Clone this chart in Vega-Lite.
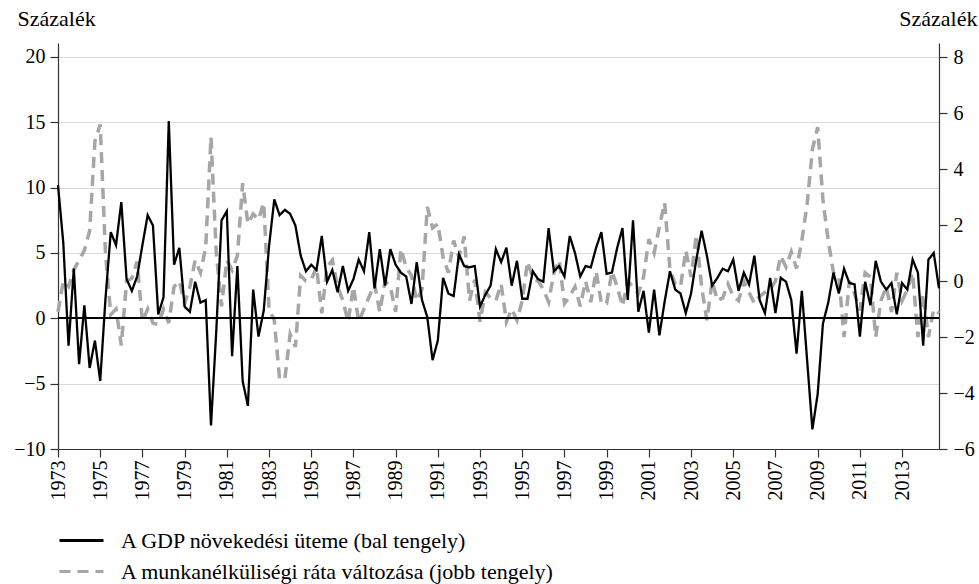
{
  "$schema": "https://vega.github.io/schema/vega-lite/v6.json",
  "width": 881,
  "height": 406,
  "autosize": "none",
  "padding": {"left": 58, "top": 43, "right": 40, "bottom": 135},
  "background": "white",
  "config": {
    "font": "Liberation Serif, DejaVu Serif, serif",
    "view": {"stroke": null},
    "axis": {
      "labelFont": "Liberation Serif, DejaVu Serif, serif",
      "titleFont": "Liberation Serif, DejaVu Serif, serif",
      "labelFontSize": 20,
      "titleFontSize": 22,
      "labelColor": "#000000",
      "titleColor": "#000000",
      "titleFontWeight": "normal",
      "domainColor": "#333333",
      "tickColor": "#333333",
      "tickSize": 8,
      "domainWidth": 1.2,
      "tickWidth": 1.2
    },
    "legend": {"labelFont": "Liberation Serif, DejaVu Serif, serif"}
  },
  "data": {
    "values": [
      {"t": 1973, "gdp": 10.2, "unemp": -1.1}, {"t": 1973.25, "gdp": 5.8, "unemp": 0.0}, {"t": 1973.5, "gdp": -2.1, "unemp": -0.2}, {"t": 1973.75, "gdp": 3.8, "unemp": 0.4},
      {"t": 1974, "gdp": -3.5, "unemp": 0.75}, {"t": 1974.25, "gdp": 1.0, "unemp": 1.1}, {"t": 1974.5, "gdp": -3.8, "unemp": 1.8}, {"t": 1974.75, "gdp": -1.7, "unemp": 5.0},
      {"t": 1975, "gdp": -4.8, "unemp": 5.6}, {"t": 1975.25, "gdp": 1.5, "unemp": 1.0}, {"t": 1975.5, "gdp": 6.6, "unemp": -1.2}, {"t": 1975.75, "gdp": 5.6, "unemp": -1.0},
      {"t": 1976, "gdp": 8.9, "unemp": -2.3}, {"t": 1976.25, "gdp": 3.0, "unemp": 0.0}, {"t": 1976.5, "gdp": 2.1, "unemp": 0.1}, {"t": 1976.75, "gdp": 3.2, "unemp": 0.7},
      {"t": 1977, "gdp": 5.6, "unemp": -1.45}, {"t": 1977.25, "gdp": 7.9, "unemp": -1.0}, {"t": 1977.5, "gdp": 7.1, "unemp": -1.5}, {"t": 1977.75, "gdp": 0.3, "unemp": -1.55},
      {"t": 1978, "gdp": 1.6, "unemp": -1.0}, {"t": 1978.25, "gdp": 15.1, "unemp": -1.5}, {"t": 1978.5, "gdp": 4.1, "unemp": -0.2}, {"t": 1978.75, "gdp": 5.4, "unemp": 0.0},
      {"t": 1979, "gdp": 0.9, "unemp": -0.8}, {"t": 1979.25, "gdp": 0.5, "unemp": -0.2}, {"t": 1979.5, "gdp": 2.8, "unemp": 0.75}, {"t": 1979.75, "gdp": 1.2, "unemp": 0.3},
      {"t": 1980, "gdp": 1.4, "unemp": 1.2}, {"t": 1980.25, "gdp": -8.2, "unemp": 5.15}, {"t": 1980.5, "gdp": -1.0, "unemp": 1.0}, {"t": 1980.75, "gdp": 7.5, "unemp": -0.9},
      {"t": 1981, "gdp": 8.2, "unemp": 0.75}, {"t": 1981.25, "gdp": -2.9, "unemp": 0.4}, {"t": 1981.5, "gdp": 4.0, "unemp": 0.9}, {"t": 1981.75, "gdp": -4.8, "unemp": 3.5},
      {"t": 1982, "gdp": -6.7, "unemp": 2.05}, {"t": 1982.25, "gdp": 2.2, "unemp": 2.4}, {"t": 1982.5, "gdp": -1.4, "unemp": 2.2}, {"t": 1982.75, "gdp": 0.6, "unemp": 2.8},
      {"t": 1983, "gdp": 5.5, "unemp": -1.0}, {"t": 1983.25, "gdp": 9.1, "unemp": -1.4}, {"t": 1983.5, "gdp": 7.9, "unemp": -3.5}, {"t": 1983.75, "gdp": 8.3, "unemp": -3.5},
      {"t": 1984, "gdp": 8.0, "unemp": -1.9}, {"t": 1984.25, "gdp": 7.1, "unemp": -2.35}, {"t": 1984.5, "gdp": 4.8, "unemp": 0.2}, {"t": 1984.75, "gdp": 3.6, "unemp": 0.0},
      {"t": 1985, "gdp": 4.1, "unemp": 0.05}, {"t": 1985.25, "gdp": 3.7, "unemp": 0.5}, {"t": 1985.5, "gdp": 6.3, "unemp": -1.15}, {"t": 1985.75, "gdp": 2.8, "unemp": 0.5},
      {"t": 1986, "gdp": 3.7, "unemp": 0.75}, {"t": 1986.25, "gdp": 2.0, "unemp": -0.2}, {"t": 1986.5, "gdp": 4.0, "unemp": -0.7}, {"t": 1986.75, "gdp": 2.1, "unemp": -1.45},
      {"t": 1987, "gdp": 3.0, "unemp": -0.2}, {"t": 1987.25, "gdp": 4.5, "unemp": -1.45}, {"t": 1987.5, "gdp": 3.6, "unemp": -1.0}, {"t": 1987.75, "gdp": 6.6, "unemp": -0.55},
      {"t": 1988, "gdp": 2.3, "unemp": -0.1}, {"t": 1988.25, "gdp": 5.3, "unemp": -1.1}, {"t": 1988.5, "gdp": 2.5, "unemp": 0.0}, {"t": 1988.75, "gdp": 5.3, "unemp": -0.2},
      {"t": 1989, "gdp": 4.1, "unemp": -1.1}, {"t": 1989.25, "gdp": 3.5, "unemp": 1.15}, {"t": 1989.5, "gdp": 3.2, "unemp": 0.5}, {"t": 1989.75, "gdp": 1.1, "unemp": 0.2},
      {"t": 1990, "gdp": 4.3, "unemp": -0.7}, {"t": 1990.25, "gdp": 1.4, "unemp": -0.3}, {"t": 1990.5, "gdp": 0.1, "unemp": 2.65}, {"t": 1990.75, "gdp": -3.2, "unemp": 1.9},
      {"t": 1991, "gdp": -1.7, "unemp": 2.05}, {"t": 1991.25, "gdp": 3.1, "unemp": 0.85}, {"t": 1991.5, "gdp": 1.9, "unemp": 0.3}, {"t": 1991.75, "gdp": 1.7, "unemp": 1.45},
      {"t": 1992, "gdp": 4.9, "unemp": 0.85}, {"t": 1992.25, "gdp": 4.0, "unemp": 1.6}, {"t": 1992.5, "gdp": 3.9, "unemp": -0.7}, {"t": 1992.75, "gdp": 4.0, "unemp": 0.05},
      {"t": 1993, "gdp": 0.9, "unemp": -1.45}, {"t": 1993.25, "gdp": 1.8, "unemp": -0.4}, {"t": 1993.5, "gdp": 2.5, "unemp": -0.6}, {"t": 1993.75, "gdp": 5.3, "unemp": -0.7},
      {"t": 1994, "gdp": 4.3, "unemp": -0.1}, {"t": 1994.25, "gdp": 5.4, "unemp": -1.45}, {"t": 1994.5, "gdp": 2.5, "unemp": -1.0}, {"t": 1994.75, "gdp": 4.4, "unemp": -1.4},
      {"t": 1995, "gdp": 1.5, "unemp": -0.7}, {"t": 1995.25, "gdp": 1.5, "unemp": 0.7}, {"t": 1995.5, "gdp": 3.6, "unemp": 0.1}, {"t": 1995.75, "gdp": 3.0, "unemp": 0.0},
      {"t": 1996, "gdp": 2.8, "unemp": -0.3}, {"t": 1996.25, "gdp": 6.9, "unemp": -0.75}, {"t": 1996.5, "gdp": 3.6, "unemp": 0.3}, {"t": 1996.75, "gdp": 4.0, "unemp": 0.75},
      {"t": 1997, "gdp": 3.2, "unemp": -0.8}, {"t": 1997.25, "gdp": 6.3, "unemp": -0.55}, {"t": 1997.5, "gdp": 5.0, "unemp": -0.2}, {"t": 1997.75, "gdp": 3.2, "unemp": -0.9},
      {"t": 1998, "gdp": 4.0, "unemp": 0.0}, {"t": 1998.25, "gdp": 3.9, "unemp": -0.75}, {"t": 1998.5, "gdp": 5.4, "unemp": 0.35}, {"t": 1998.75, "gdp": 6.6, "unemp": -0.8},
      {"t": 1999, "gdp": 3.4, "unemp": -0.8}, {"t": 1999.25, "gdp": 3.5, "unemp": 0.35}, {"t": 1999.5, "gdp": 5.4, "unemp": -0.2}, {"t": 1999.75, "gdp": 6.9, "unemp": -0.9},
      {"t": 2000, "gdp": 1.4, "unemp": 0.0}, {"t": 2000.25, "gdp": 7.5, "unemp": -0.2}, {"t": 2000.5, "gdp": 0.5, "unemp": -0.45}, {"t": 2000.75, "gdp": 2.1, "unemp": 0.15},
      {"t": 2001, "gdp": -1.1, "unemp": 1.5}, {"t": 2001.25, "gdp": 2.2, "unemp": 1.0}, {"t": 2001.5, "gdp": -1.3, "unemp": 1.95}, {"t": 2001.75, "gdp": 1.3, "unemp": 2.8},
      {"t": 2002, "gdp": 3.6, "unemp": 0.4}, {"t": 2002.25, "gdp": 2.2, "unemp": -0.1}, {"t": 2002.5, "gdp": 1.9, "unemp": -0.2}, {"t": 2002.75, "gdp": 0.4, "unemp": 1.1},
      {"t": 2003, "gdp": 1.9, "unemp": 0.15}, {"t": 2003.25, "gdp": 4.5, "unemp": 1.65}, {"t": 2003.5, "gdp": 6.7, "unemp": -0.2}, {"t": 2003.75, "gdp": 4.8, "unemp": -1.4},
      {"t": 2004, "gdp": 2.5, "unemp": 0.0}, {"t": 2004.25, "gdp": 3.1, "unemp": -0.7}, {"t": 2004.5, "gdp": 3.8, "unemp": -0.6}, {"t": 2004.75, "gdp": 3.6, "unemp": -0.1},
      {"t": 2005, "gdp": 4.5, "unemp": -0.55}, {"t": 2005.25, "gdp": 2.1, "unemp": -0.7}, {"t": 2005.5, "gdp": 3.5, "unemp": 0.0}, {"t": 2005.75, "gdp": 2.6, "unemp": -0.4},
      {"t": 2006, "gdp": 4.8, "unemp": -0.8}, {"t": 2006.25, "gdp": 1.4, "unemp": -0.55}, {"t": 2006.5, "gdp": 0.4, "unemp": -0.4}, {"t": 2006.75, "gdp": 3.1, "unemp": -0.3},
      {"t": 2007, "gdp": 0.4, "unemp": 0.0}, {"t": 2007.25, "gdp": 3.1, "unemp": 0.9}, {"t": 2007.5, "gdp": 2.8, "unemp": 0.5}, {"t": 2007.75, "gdp": 1.4, "unemp": 1.05},
      {"t": 2008, "gdp": -2.7, "unemp": 0.45}, {"t": 2008.25, "gdp": 2.1, "unemp": 1.45}, {"t": 2008.5, "gdp": -3.2, "unemp": 2.75}, {"t": 2008.75, "gdp": -8.5, "unemp": 4.7},
      {"t": 2009, "gdp": -5.8, "unemp": 5.5}, {"t": 2009.25, "gdp": -0.4, "unemp": 2.9}, {"t": 2009.5, "gdp": 1.2, "unemp": 1.45}, {"t": 2009.75, "gdp": 3.5, "unemp": 0.3},
      {"t": 2010, "gdp": 1.9, "unemp": 0.2}, {"t": 2010.25, "gdp": 3.8, "unemp": -2.0}, {"t": 2010.5, "gdp": 2.7, "unemp": 0.0}, {"t": 2010.75, "gdp": 2.6, "unemp": -0.45},
      {"t": 2011, "gdp": -1.4, "unemp": -1.05}, {"t": 2011.25, "gdp": 2.8, "unemp": 0.3}, {"t": 2011.5, "gdp": 1.0, "unemp": 0.15}, {"t": 2011.75, "gdp": 4.4, "unemp": -2.0},
      {"t": 2012, "gdp": 2.8, "unemp": -0.7}, {"t": 2012.25, "gdp": 2.2, "unemp": -0.2}, {"t": 2012.5, "gdp": 2.7, "unemp": -1.1}, {"t": 2012.75, "gdp": 0.3, "unemp": 0.3},
      {"t": 2013, "gdp": 2.7, "unemp": -0.7}, {"t": 2013.25, "gdp": 2.2, "unemp": -0.3}, {"t": 2013.5, "gdp": 4.5, "unemp": 0.3}, {"t": 2013.75, "gdp": 3.5, "unemp": -2.0},
      {"t": 2014, "gdp": -2.1, "unemp": -0.45}, {"t": 2014.25, "gdp": 4.5, "unemp": -2.0}, {"t": 2014.5, "gdp": 5.0, "unemp": -1.0}, {"t": 2014.75, "gdp": 2.3, "unemp": -1.15}
    ]
  },
  "transform": [{"fold": ["gdp", "unemp"], "as": ["key", "val"]}],
  "encoding": {
    "x": {
      "field": "t",
      "type": "quantitative",
      "scale": {"domain": [1973, 2014.75], "nice": false, "zero": false},
      "axis": {
        "title": null,
        "values": [1973, 1975, 1977, 1979, 1981, 1983, 1985, 1987, 1989, 1991, 1993, 1995, 1997, 1999, 2001, 2003, 2005, 2007, 2009, 2011, 2013],
        "format": "d",
        "labelAngle": -90,
        "labelPadding": 3,
        "grid": false
      }
    }
  },
  "layer": [
    {
      "transform": [{"filter": "datum.key == 'unemp'"}],
      "mark": {"type": "line", "strokeWidth": 3.5},
      "encoding": {
        "y": {
          "field": "val",
          "type": "quantitative",
          "scale": {"domain": [-6, 8.51], "nice": false, "zero": false},
          "axis": {
            "orient": "right",
            "values": [-6, -4, -2, 0, 2, 4, 6, 8],
            "grid": false,
            "labelPadding": 6,
            "title": "Százalék",
            "titleAngle": 0,
            "titleAlign": "right",
            "titleBaseline": "alphabetic",
            "titleX": 38,
            "titleY": -18
          }
        },
        "color": {
          "field": "key",
          "type": "nominal",
          "scale": {"domain": ["gdp", "unemp"], "range": ["#000000", "#a6a6a6"]},
          "legend": {
            "title": null,
            "orient": "none",
            "legendX": 0,
            "legendY": 485,
            "padding": 0,
            "symbolType": "M-1,0L3,0",
            "symbolSize": 484,
            "symbolStrokeWidth": 3,
            "labelFontSize": 22,
            "labelColor": "#000000",
            "labelOffset": 38,
            "labelLimit": 800,
            "rowPadding": 7,
            "labelExpr": "datum.label == 'gdp' ? 'A GDP növekedési üteme (bal tengely)' : 'A munkanélküliségi ráta változása (jobb tengely)'"
          }
        },
        "strokeDash": {
          "field": "key",
          "type": "nominal",
          "scale": {"domain": ["gdp", "unemp"], "range": [[1, 0], [11, 7]]},
          "legend": {
            "title": null,
            "orient": "none",
            "legendX": 0,
            "legendY": 485,
            "padding": 0,
            "symbolType": "M-1,0L3,0",
            "symbolSize": 484,
            "symbolStrokeWidth": 3,
            "labelFontSize": 22,
            "labelColor": "#000000",
            "labelOffset": 38,
            "labelLimit": 800,
            "rowPadding": 7,
            "labelExpr": "datum.label == 'gdp' ? 'A GDP növekedési üteme (bal tengely)' : 'A munkanélküliségi ráta változása (jobb tengely)'"
          }
        }
      }
    },
    {
      "mark": {"type": "rule", "color": "#000000", "strokeWidth": 1.2},
      "encoding": {
        "y": {"datum": 0, "type": "quantitative", "scale": {"domain": [-10, 21.07], "nice": false, "zero": false}, "axis": null},
        "x": {"value": 0},
        "x2": {"value": 881}
      }
    },
    {
      "transform": [{"filter": "datum.key == 'gdp'"}],
      "mark": {"type": "line", "strokeWidth": 2.3},
      "encoding": {
        "y": {
          "field": "val",
          "type": "quantitative",
          "scale": {"domain": [-10, 21.07], "nice": false, "zero": false},
          "axis": {
            "orient": "left",
            "values": [-10, -5, 0, 5, 10, 15, 20],
            "grid": true,
            "gridColor": "#d9d9d9",
            "gridWidth": 1.2,
            "labelPadding": 5,
            "title": "Százalék",
            "titleAngle": 0,
            "titleAlign": "left",
            "titleBaseline": "alphabetic",
            "titleX": -41,
            "titleY": -18
          }
        },
        "color": {"field": "key", "type": "nominal"},
        "strokeDash": {"field": "key", "type": "nominal"}
      }
    }
  ],
  "resolve": {"scale": {"y": "independent"}}
}
